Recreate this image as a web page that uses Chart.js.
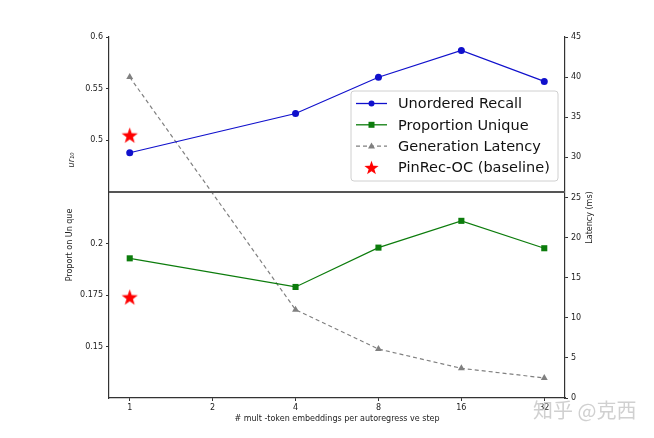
<!DOCTYPE html>
<html lang="en"><head>
<meta charset="utf-8">
<script src="https://cdn.jsdelivr.net/npm/chart.js@4/dist/chart.umd.min.js"></script>
<style>html,body{margin:0;padding:0;background:#fff;}</style>
</head>
<body>
<canvas id="myChart" width="654" height="438"></canvas>
<script>
// data
const tokenTicks = [1, 2, 4, 8, 16, 32];
const steps = [1, 4, 8, 16, 32];
const recall = [0.488, 0.526, 0.561, 0.587, 0.557];
const propUnique = [0.1928, 0.1789, 0.198, 0.211, 0.1977];
const latency = [40.0, 11.0, 6.1, 3.7, 2.5];
const baselineStep = [1];
const baselineRecall = [0.505];
const baselineProp = [0.174];

const recallTicks = [0.5, 0.55, 0.6];
const propTicks = [0.15, 0.175, 0.2];

Chart.defaults.font.family = 'DejaVu Sans';
Chart.defaults.color = '#222';

// filled star marker (matplotlib '*')
function makeStar(r) {
  const c = document.createElement('canvas');
  c.width = c.height = Math.ceil(r * 2 + 2);
  const g = c.getContext('2d');
  const cx = c.width / 2, cy = c.height / 2 + r * 0.1;
  g.beginPath();
  for (let i = 0; i < 10; i++) {
    const rad = i % 2 === 0 ? r : r * 0.4;
    const a = -Math.PI / 2 + i * Math.PI / 5;
    g.lineTo(cx + rad * Math.cos(a), cy + rad * Math.sin(a));
  }
  g.closePath();
  g.fillStyle = '#ff0000';
  g.fill();
  return c;
}
const bigStar = makeStar(8.5);
const smallStar = makeStar(7.5);

const pts = (xs, ys) => xs.map((x, i) => ({x: x, y: ys[i]}));

const axisLine = {color: '#333', width: 1.2};
const tickGrid = {drawOnChartArea: false, drawTicks: true, tickLength: 3, color: '#333'};

const extras = {
  id: 'extras',
  afterDraw(chart) {
    const ctx = chart.ctx;
    const yR = chart.scales.yR, x = chart.scales.x, yL = chart.scales.yL;
    ctx.save();
    // panel divider
    ctx.strokeStyle = '#555';
    ctx.lineWidth = 2;
    ctx.beginPath();
    ctx.moveTo(x.left, yR.bottom);
    ctx.lineTo(x.right, yR.bottom);
    ctx.stroke();

    // axis titles
    ctx.fillStyle = '#222';
    ctx.textAlign = 'center';
    ctx.textBaseline = 'middle';
    ctx.font = '8px "DejaVu Sans"';
    ctx.fillText('# mult -token embeddings per autoregress ve step', (x.left + x.right) / 2, 419);
    const rot = (txt, px, py, font) => {
      ctx.save();
      ctx.translate(px, py);
      ctx.rotate(-Math.PI / 2);
      ctx.font = font;
      ctx.fillText(txt, 0, 0);
      ctx.restore();
    };
    rot('ur\u2081\u2080', 72, 160, 'italic 8px "DejaVu Sans"');
    rot('Proport on Un que', 70, 245, '8px "DejaVu Sans"');
    rot('Latency (ms)', 590, (yL.top + yL.bottom) / 2, '8px "DejaVu Sans"');

    // legend
    const lx = 351, ly = 91, lw = 207, lh = 90;
    ctx.beginPath();
    ctx.roundRect(lx, ly, lw, lh, 3);
    ctx.fillStyle = 'rgba(255,255,255,0.85)';
    ctx.fill();
    ctx.strokeStyle = '#d0d0d0';
    ctx.lineWidth = 1;
    ctx.stroke();
    const entries = chart.data.datasets.filter(d => !d.hideInLegend);
    entries.forEach((d, i) => {
      const ry = 103.5 + i * 21.3;
      if (d.showLine !== false) {
        ctx.strokeStyle = d.borderColor;
        ctx.lineWidth = 1.3;
        ctx.setLineDash(d.borderDash || []);
        ctx.beginPath();
        ctx.moveTo(356, ry);
        ctx.lineTo(387, ry);
        ctx.stroke();
        ctx.setLineDash([]);
      }
      ctx.fillStyle = d.pointBackgroundColor;
      if (d.pointStyle === 'circle') {
        ctx.beginPath(); ctx.arc(371.5, ry, 3, 0, Math.PI * 2); ctx.fill();
      } else if (d.pointStyle === 'rect') {
        ctx.fillRect(368.5, ry - 3, 6, 6);
      } else if (d.pointStyle === 'triangle') {
        ctx.beginPath(); ctx.moveTo(371.5, ry - 3.5); ctx.lineTo(375, ry + 2.5); ctx.lineTo(368, ry + 2.5); ctx.closePath(); ctx.fill();
      } else {
        ctx.drawImage(smallStar, 371.5 - smallStar.width / 2, ry - smallStar.height / 2);
      }
      ctx.fillStyle = '#111';
      ctx.textAlign = 'left';
      ctx.font = '14.5px "DejaVu Sans"';
      ctx.fillText(d.label, 398, ry + 1);
    });

    // watermark
    ctx.font = '20px "Noto Sans CJK SC"';
    ctx.textAlign = 'left';
    ctx.fillStyle = 'rgba(200,200,200,0.85)';
    ctx.fillText('知乎 @克西', 533, 410);
    ctx.restore();
  }
};

const ctx = document.getElementById('myChart').getContext('2d');
new Chart(ctx, {
  type: 'line',
  data: {
    datasets: [
      {
        label: 'Unordered Recall', data: pts(steps, recall), yAxisID: 'yR',
        borderColor: '#1010cc', backgroundColor: '#1010cc', pointBackgroundColor: '#1010cc',
        pointStyle: 'circle', pointRadius: 3.5, pointBorderWidth: 0, borderWidth: 1.2
      },
      {
        label: 'Proportion Unique', data: pts(steps, propUnique), yAxisID: 'yP',
        borderColor: '#0c7c0c', backgroundColor: '#0c7c0c', pointBackgroundColor: '#0c7c0c',
        pointStyle: 'rect', pointRadius: 4.3, pointBorderWidth: 0, borderWidth: 1.2
      },
      {
        label: 'Generation Latency', data: pts(steps, latency), yAxisID: 'yL',
        borderColor: '#808080', backgroundColor: '#808080', pointBackgroundColor: '#808080',
        borderDash: [4, 3], pointStyle: 'triangle', pointRadius: 4, pointBorderWidth: 0, borderWidth: 1.2
      },
      {
        label: 'PinRec-OC (baseline)', data: pts(baselineStep, baselineRecall), yAxisID: 'yR',
        showLine: false, pointStyle: bigStar, pointBackgroundColor: '#ff0000', borderColor: '#ff0000', pointRadius: 8
      },
      {
        label: 'PinRec-OC (baseline)', data: pts(baselineStep, baselineProp), yAxisID: 'yP',
        showLine: false, pointStyle: bigStar, pointBackgroundColor: '#ff0000', borderColor: '#ff0000', pointRadius: 8,
        hideInLegend: true
      }
    ]
  },
  options: {
    responsive: false,
    animation: false,
    layout: {padding: {left: 69, right: 59, top: 37, bottom: 0}},
    plugins: {legend: {display: false}, tooltip: {enabled: false}},
    scales: {
      x: {
        type: 'logarithmic', min: Math.pow(2, -0.25), max: Math.pow(2, 5.25),
        grid: tickGrid, border: axisLine,
        afterBuildTicks: s => { s.ticks = tokenTicks.map(v => ({value: v})); },
        ticks: {font: {size: 8}, padding: 2, maxRotation: 0, autoSkip: false, callback: v => String(v)},
        afterFit: s => { s.height = 40; }
      },
      // stacked left axes: first listed sits at the bottom
      yP: {
        type: 'linear', position: 'left', stack: 'left', stackWeight: 206,
        min: 0.125, max: 0.225,
        grid: tickGrid, border: axisLine,
        afterBuildTicks: s => { s.ticks = propTicks.map(v => ({value: v})); },
        ticks: {font: {size: 8}, padding: 3, callback: v => String(+v.toFixed(3))},
        afterFit: s => { s.width = 40; }
      },
      yR: {
        type: 'linear', position: 'left', stack: 'left', stackWeight: 155,
        min: 0.45, max: 0.6,
        grid: tickGrid, border: axisLine,
        afterBuildTicks: s => { s.ticks = recallTicks.map(v => ({value: v})); },
        ticks: {font: {size: 8}, padding: 3, callback: v => String(+v.toFixed(3))},
        afterFit: s => { s.width = 40; }
      },
      yL: {
        type: 'linear', position: 'right', min: 0, max: 45,
        grid: tickGrid, border: axisLine,
        ticks: {font: {size: 8}, padding: 3, stepSize: 5},
        afterFit: s => { s.width = 30; }
      }
    }
  },
  plugins: [extras]
});
</script>
</body></html>
